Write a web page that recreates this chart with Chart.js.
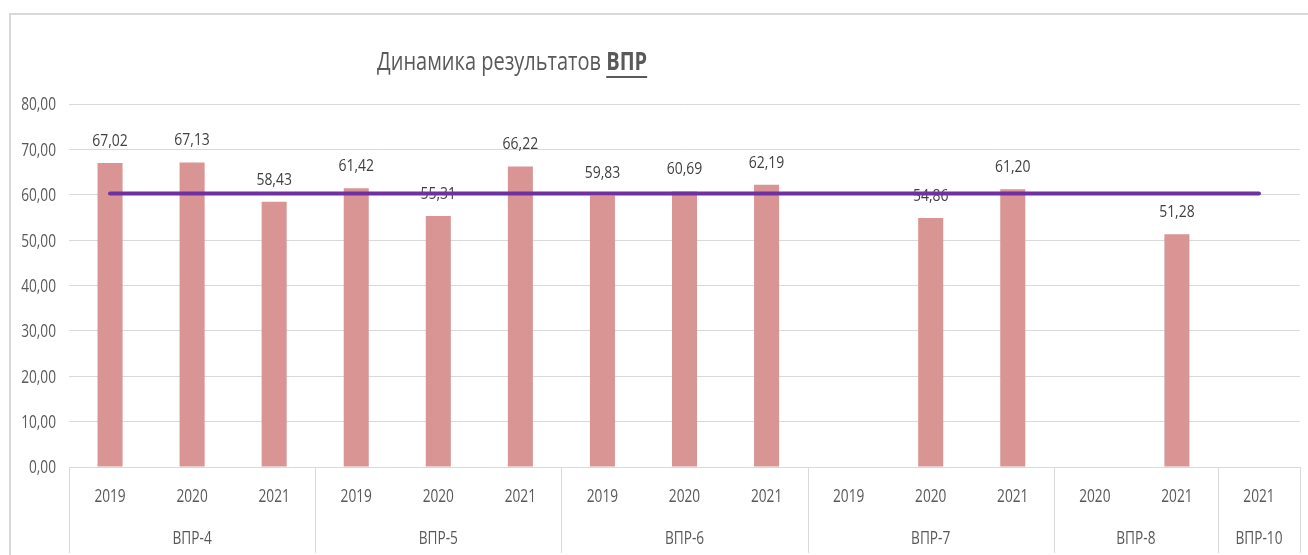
<!DOCTYPE html>
<html>
<head>
<meta charset="utf-8">
<script src="https://cdn.jsdelivr.net/npm/chart.js@4/dist/chart.umd.min.js"></script>
<style>
html,body{margin:0;padding:0;background:#fff;width:1308px;height:555px;overflow:hidden;}
#frame{position:absolute;left:9px;top:13px;width:1400px;height:600px;border:2px solid #d9d9d9;box-sizing:border-box;}
#wrap{position:absolute;left:0;top:0;width:1308px;height:555px;}
</style>
</head>
<body>
<div id="frame"></div>
<div id="wrap"><canvas id="c" width="1308" height="555"></canvas></div>
<script>
const titleMain = 'Динамика результатов ';
const titleBold = 'ВПР';
const groups = ['ВПР-4','ВПР-5','ВПР-6','ВПР-7','ВПР-8','ВПР-10'];
const groupSizes = [3,3,3,3,2,1];
const years = ['2019','2020','2021','2019','2020','2021','2019','2020','2021','2019','2020','2021','2020','2021','2021'];
const results = [67.02,67.13,58.43,61.42,55.31,66.22,59.83,60.69,62.19,null,54.86,61.20,null,51.28,null];
const levelLine = [60.3,60.3,60.3,60.3,60.3,60.3,60.3,60.3,60.3,60.3,60.3,60.3,60.3,60.3,60.3];
const yTicks = [0,10,20,30,40,50,60,70,80];

const FONT = '"Open Sans","Noto Sans",sans-serif';
const fmt = v => v.toFixed(2).replace('.', ',');

// draw text horizontally condensed (the reference uses a narrow face)
function drawText(ctx, text, x, y, align, sx) {
  const w = ctx.measureText(text).width * sx;
  let left = x;
  if (align === 'center') left = x - w / 2;
  else if (align === 'right') left = x - w;
  ctx.save();
  ctx.translate(left, y);
  ctx.scale(sx, 1);
  ctx.textAlign = 'left';
  ctx.fillText(text, 0, 0);
  ctx.restore();
  return w;
}

const SX_TICK = 0.72, SX_LABEL = 0.82, SX_TITLE = 0.80;

const groupAxisPlugin = {
  id: 'groupAxis',
  afterDatasetDraw(chart, args) {
    if (args.index !== 0) return;
    const ctx = chart.ctx;
    const meta = chart.getDatasetMeta(0);
    ctx.save();
    ctx.font = '17px ' + FONT;
    ctx.fillStyle = '#404040';
    ctx.textBaseline = 'middle';
    meta.data.forEach((el, i) => {
      const v = results[i];
      if (v === null || v === undefined) return;
      drawText(ctx, fmt(v), el.x, el.y - 22, 'center', SX_LABEL);
    });
    ctx.restore();
  },
  afterDraw(chart) {
    const ctx = chart.ctx;
    const a = chart.chartArea;
    const xs = chart.scales.x;
    const ys = chart.scales.y;
    const n = years.length;
    const w = (a.right - a.left) / n;
    const bottomEdge = 553;
    ctx.save();
    ctx.strokeStyle = '#d9d9d9';
    ctx.lineWidth = 1;
    ctx.beginPath();
    ctx.moveTo(a.left, Math.round(a.bottom) + 0.5);
    ctx.lineTo(a.right, Math.round(a.bottom) + 0.5);
    let cum = 0;
    const bounds = [0];
    groupSizes.forEach(s => { cum += s; bounds.push(cum); });
    bounds.forEach(b => {
      const x = Math.round(a.left + b * w) + 0.5;
      ctx.moveTo(x, a.bottom);
      ctx.lineTo(x, bottomEdge);
    });
    ctx.stroke();

    ctx.fillStyle = '#595959';
    ctx.textBaseline = 'middle';
    ctx.font = '19px ' + FONT;
    yTicks.forEach(v => {
      drawText(ctx, fmt(v), 56, ys.getPixelForValue(v) + 1, 'right', SX_TICK);
    });
    years.forEach((y, i) => {
      drawText(ctx, y, xs.getPixelForValue(i), 497, 'center', SX_TICK);
    });
    groups.forEach((g, gi) => {
      const cx = a.left + (bounds[gi] + bounds[gi + 1]) / 2 * w;
      drawText(ctx, g, cx, 539, 'center', SX_TICK);
    });

    // title
    ctx.font = '25px ' + FONT;
    const x0 = 377, ty = 63;
    const w1 = drawText(ctx, titleMain, x0, ty, 'left', SX_TITLE);
    ctx.font = 'bold 25px ' + FONT;
    const w2 = drawText(ctx, titleBold, x0 + w1, ty, 'left', SX_TITLE);
    ctx.fillRect(x0 + w1, ty + 13, w2, 2);
    ctx.restore();
  }
};

new Chart(document.getElementById('c'), {
  data: {
    labels: years,
    datasets: [
      {
        type: 'bar',
        data: results,
        backgroundColor: '#d99594',
        borderWidth: 0,
        barPercentage: 0.305,
        categoryPercentage: 1,
        order: 1
      },
      {
        type: 'line',
        data: levelLine,
        borderColor: '#7030a0',
        borderWidth: 4,
        borderCapStyle: 'round',
        pointRadius: 0,
        pointHoverRadius: 0,
        fill: false,
        tension: 0,
        order: 0
      }
    ]
  },
  options: {
    responsive: false,
    animation: false,
    events: [],
    layout: { padding: { left: 0, top: 104, right: 8, bottom: 88 } },
    plugins: { legend: { display: false }, tooltip: { enabled: false }, title: { display: false } },
    scales: {
      x: { type: 'category', offset: true, display: false },
      y: {
        min: 0, max: 80,
        afterBuildTicks: s => { s.ticks = yTicks.map(v => ({ value: v })); },
        afterFit: s => { s.width = 69; },
        border: { display: false },
        grid: { color: '#d9d9d9', lineWidth: 1, drawTicks: false },
        ticks: { display: false }
      }
    }
  },
  plugins: [groupAxisPlugin]
});
</script>
</body>
</html>
